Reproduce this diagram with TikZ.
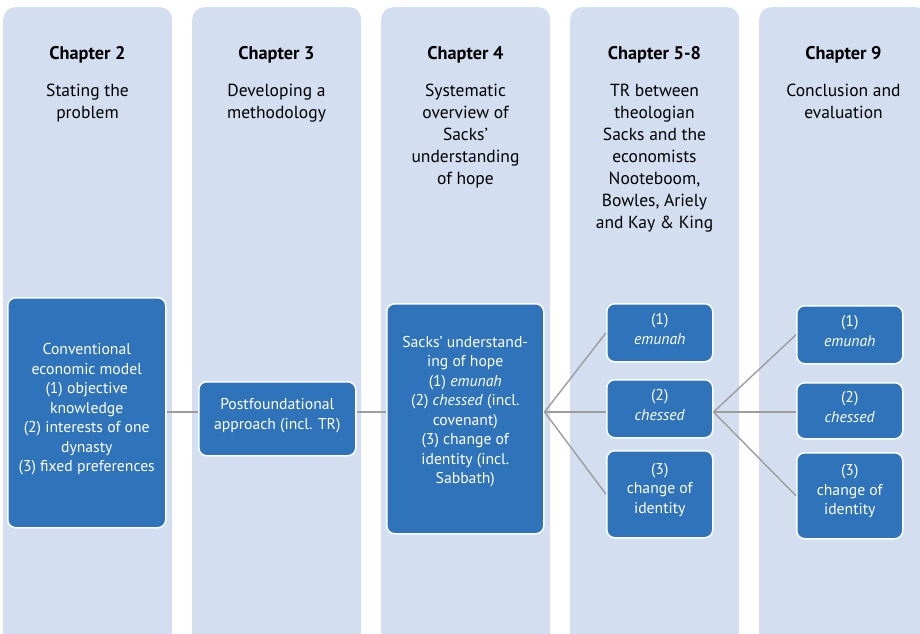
\documentclass[tikz,border=0pt]{standalone}
\usepackage{fontspec}
\setmainfont{PT Sans}
\definecolor{colfill}{HTML}{D3DEF1}
\definecolor{boxblue}{HTML}{2F74BB}
\definecolor{conngray}{HTML}{9D9D9D}
\begin{document}
\begin{tikzpicture}[x=1pt,y=-1pt,
  column/.style={fill=colfill, rounded corners=12pt, minimum width=169pt, minimum height=640pt, anchor=north west, inner sep=0pt},
  box/.style={draw=white, line width=1.5pt, fill=boxblue, rounded corners=8pt, text=white, align=center, inner sep=0pt, anchor=north west, font=\fontsize{15.7}{19.5}\selectfont},
  chap/.style={font=\bfseries\fontsize{18.3}{22}\selectfont, inner sep=0pt},
  sub/.style={font=\fontsize{17.5}{22}\selectfont, align=center, anchor=north, inner sep=0pt},
  conn/.style={draw=conngray, line width=1.4pt}]
\useasboundingbox (0,0) rectangle (920,633);
\clip (0,0) rectangle (920,633);
\foreach \i/\n in {0/colA,1/colB,2/colC,3/colD,4/colE}{
  \node[column] (\n) at (3+189*\i,7) {};
}
\node[chap] (h2) at (87.5,55) {Chapter 2};
\node[chap] (h3) at (276.5,55) {Chapter 3};
\node[chap] (h4) at (465.5,55) {Chapter 4};
\node[chap] (h5) at (654.5,55) {Chapter 5-8};
\node[chap] (h9) at (843.5,55) {Chapter 9};
\node[sub] (s2) at (87.5,83.5) {Stating the\\problem};
\node[sub] (s3) at (276.5,83.5) {Developing a\\methodology};
\node[sub] (s4) at (465.5,83.5) {Systematic\\overview of\\Sacks'\\understanding\\of hope};
\node[sub] (s5) at (654.5,83.5) {TR between\\theologian\\Sacks and the\\economists\\Nooteboom,\\Bowles, Ariely\\and Kay \& King};
\node[sub] (s9) at (843.5,83.5) {Conclusion and\\evaluation};

\node[box, minimum width=158pt, minimum height=230pt, text depth=10pt] (b1) at (7,297) {Conventional\\economic model\\(1) objective\\knowledge\\(2) interests of one\\dynasty\\(3) fixed preferences};
\node[box, minimum width=157pt, minimum height=74pt, text depth=10pt] (b2) at (198,381) {Postfoundational\\approach (incl. TR)};
\node[box, minimum width=157pt, minimum height=230pt, text depth=18pt] (b3) at (386,303) {Sacks' understand-\\ing of hope\\(1) \textit{emunah}\\(2) \textit{chessed} (incl.\\covenant)\\(3) change of\\identity (incl.\\Sabbath)};
\node[box, minimum width=106pt, minimum height=58pt, text depth=8pt] (c4a) at (606,303) {(1)\\\textit{emunah}};
\node[box, minimum width=106pt, minimum height=58pt, text depth=8pt] (c4b) at (606,379) {(2)\\\textit{chessed}};
\node[box, minimum width=106pt, minimum height=87pt, text depth=12pt] (c4c) at (606,450) {(3)\\change of\\identity};
\node[box, minimum width=106pt, minimum height=58pt, text depth=8pt] (c5a) at (796,305) {(1)\\\textit{emunah}};
\node[box, minimum width=106pt, minimum height=56pt, text depth=8pt] (c5b) at (796,382) {(2)\\\textit{chessed}};
\node[box, minimum width=106pt, minimum height=86pt, text depth=12pt] (c5c) at (796,452) {(3)\\change of\\identity};

\coordinate (spine) at (0,412);
\draw[conn] (b1.east |- spine) -- (b2.west |- spine);
\draw[conn] (b2.east |- spine) -- (b3.west |- spine);
\draw[conn] (b3.east |- spine) -- (c4a.west);
\draw[conn] (b3.east |- spine) -- (c4b.west |- spine);
\draw[conn] (b3.east |- spine) -- (c4c.west);
\draw[conn] (c4b.east |- spine) -- (c5a.west);
\draw[conn] (c4b.east |- spine) -- (c5b.west |- spine);
\draw[conn] (c4b.east |- spine) -- (c5c.west);
\end{tikzpicture}
\end{document}
